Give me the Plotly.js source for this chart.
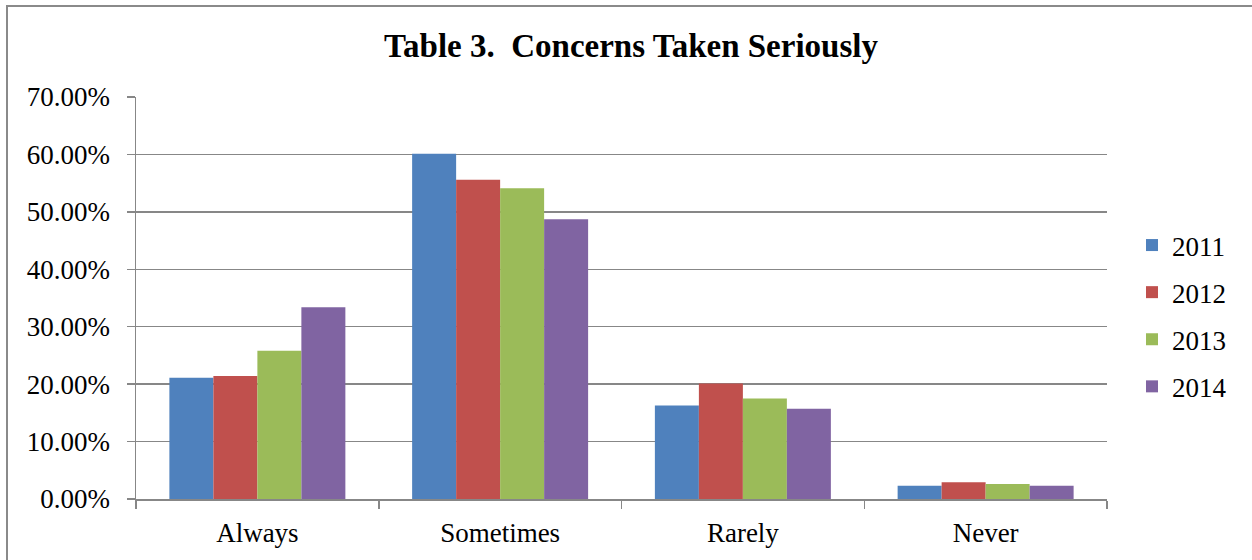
<!DOCTYPE html>
<html>
<head>
<meta charset="utf-8">
<script src="https://cdn.plot.ly/plotly-3.0.1.min.js"></script>
<style>
  html, body { margin: 0; padding: 0; background: #ffffff; }
  #chart { width: 1252px; height: 560px; }
</style>
</head>
<body>
<div id="chart"></div>
<script>
// Share of responses per answer, one series per survey year
const categories = ["Always", "Sometimes", "Rarely", "Never"];
const years = ["2011", "2012", "2013", "2014"];
const values2011 = [0.211, 0.601, 0.163, 0.023];
const values2012 = [0.214, 0.556, 0.201, 0.029];
const values2013 = [0.258, 0.541, 0.175, 0.026];
const values2014 = [0.334, 0.487, 0.157, 0.023];
const yTicks = [0, 0.1, 0.2, 0.3, 0.4, 0.5, 0.6, 0.7];
const titleText = "Table 3.\u00a0 Concerns Taken Seriously";

const seriesValues = [values2011, values2012, values2013, values2014];
const colors = ["#4F81BD", "#C0504D", "#9BBB59", "#8064A2"];
const fontFamily = "'Liberation Serif', 'Times New Roman', serif";
const gridColor = "#878787";

const W = 1252, H = 560;
const margin = { l: 136, r: 145, t: 97, b: 61, pad: 0 };
const plotW = W - margin.l - margin.r;
const plotH = H - margin.t - margin.b;
const pxToPaperX = px => (px - margin.l) / plotW;
const pxToPaperY = py => (H - margin.b - py) / plotH;

const traces = years.map((yr, i) => ({
  type: "bar",
  name: yr,
  x: categories,
  y: seriesValues[i],
  legendgroup: yr,
  marker: { color: colors[i], line: { width: 0 } },
  hovertemplate: "%{x}: %{y:.2%}<extra>" + yr + "</extra>"
}));

const layout = {
  width: W,
  height: H,
  margin: margin,
  paper_bgcolor: "#ffffff",
  plot_bgcolor: "#ffffff",
  font: { family: fontFamily, size: 27, color: "#000000" },
  title: {
    text: "<b>" + titleText + "</b>",
    font: { family: fontFamily, size: 33, color: "#000000" },
    xref: "container", x: 631 / W, xanchor: "center",
    yref: "container", y: 1 - 45 / H, yanchor: "middle"
  },
  barmode: "group",
  bargap: 0.275,
  bargroupgap: 0,
  xaxis: {
    type: "category",
    showline: true, linecolor: gridColor, linewidth: 1.5,
    ticks: "outside", tickson: "boundaries", ticklen: 8, tickwidth: 1.5, tickcolor: gridColor,
    ticklabelstandoff: 9,
    showgrid: false, zeroline: false,
    tickfont: { family: fontFamily, size: 27, color: "#000000" }
  },
  yaxis: {
    range: [0, 0.7],
    tickvals: yTicks,
    tickformat: ".2%",
    showline: true, linecolor: gridColor, linewidth: 1.5,
    ticks: "outside", ticklen: 8, tickwidth: 1.5, tickcolor: gridColor,
    ticklabelstandoff: 11,
    showgrid: true, gridcolor: gridColor, gridwidth: 1.5,
    zeroline: false,
    tickfont: { family: fontFamily, size: 27, color: "#000000" }
  },
  legend: {
    x: pxToPaperX(1132), xanchor: "left",
    y: pxToPaperY(316), yanchor: "middle",
    traceorder: "grouped",
    tracegroupgap: 9,
    font: { family: fontFamily, size: 27, color: "#000000" },
    bgcolor: "rgba(0,0,0,0)",
    itemwidth: 30
  },
  shapes: [{
    type: "rect", xref: "paper", yref: "paper", layer: "below",
    x0: pxToPaperX(7), x1: pxToPaperX(W + 20),
    y0: pxToPaperY(H + 20), y1: pxToPaperY(6),
    line: { color: "#8a8a8a", width: 2 },
    fillcolor: "rgba(0,0,0,0)"
  }],
  showlegend: true
};

Plotly.newPlot("chart", traces, layout, { displayModeBar: false, staticPlot: true });
</script>
</body>
</html>
